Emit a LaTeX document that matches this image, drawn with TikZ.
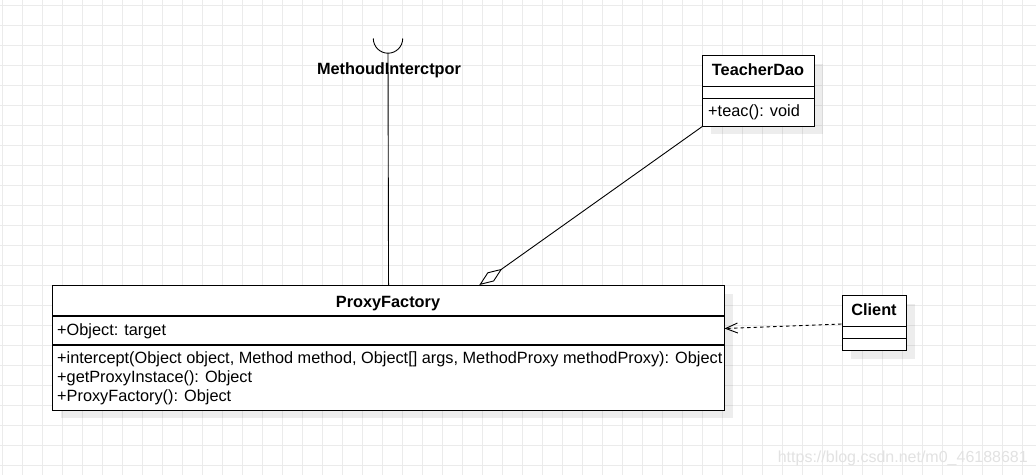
\documentclass[tikz,border=0pt]{standalone}
\usepackage{fontspec}
\setmainfont{Liberation Sans}
\usetikzlibrary{arrows.meta,shadows,calc}
\definecolor{gridc}{HTML}{EBEBEB}
\definecolor{wm}{HTML}{E2E2E2}
\tikzset{
  umlbox/.style={draw=black, line width=1.1pt, fill=white, inner sep=0pt, anchor=north west,
    drop shadow={shadow xshift=8pt, shadow yshift=-8pt, fill=black, opacity=0.07}},
  sepline/.style={draw=black, line width=1.1pt},
  conn/.style={draw=black, line width=0.9pt},
  ttl/.style={font=\fontsize{16.3}{19}\selectfont\bfseries, inner sep=0pt, anchor=base},
  mem/.style={font=\fontsize{16.3}{19}\selectfont, inner sep=0pt, anchor=base west},
}
\begin{document}
\begin{tikzpicture}[x=1pt,y=-1pt]
\useasboundingbox (0,0) rectangle (1036,475);
\fill[white] (0,0) rectangle (1036,475);
% grid
\foreach \gx in {2.67,22.67,...,1036} {\draw[gridc, line width=0.9pt] (\gx,0) -- (\gx,475);}
\foreach \gy in {5,25,...,475} {\draw[gridc, line width=0.9pt] (0,\gy) -- (1036,\gy);}

% ProxyFactory
\node[umlbox, minimum width=672pt, minimum height=124.5pt] (pf) at (52,285) {};
\draw[sepline] (52,316) -- (724,316);
\draw[sepline] (52,345) -- (724,345);
\node[ttl] (pft) at (388,307.7) {ProxyFactory};
\node[mem] (pfa) at (57,335) {+Object: target};
\node[mem] (pfm1) at (57,363.5) {+intercept(Object object, Method method, Object[] args, MethodProxy methodProxy): Object};
\node[mem] (pfm2) at (57,382.5) {+getProxyInstace(): Object};
\node[mem] (pfm3) at (57,401.5) {+ProxyFactory(): Object};

% TeacherDao
\node[umlbox, minimum width=112pt, minimum height=70.5pt] (td) at (702,55) {};
\draw[sepline] (702,86.7) -- (814,86.7);
\draw[sepline] (702,98.3) -- (814,98.3);
\node[ttl] (tdt) at (758,75.7) {TeacherDao};
\node[mem] (tdm) at (708,116.7) {+teac(): void};

% Client
\node[umlbox, minimum width=64pt, minimum height=55pt] (cl) at (842,295) {};
\draw[sepline] (842,326.7) -- (906,326.7);
\draw[sepline] (842,338.3) -- (906,338.3);
\node[ttl] (clt) at (874,315.7) {Client};

% dependency Client -> ProxyFactory
\coordinate (clw) at (841.5,324);
\coordinate (pfe) at (724.5,328.5);
\draw[conn, dash pattern=on 3.5pt off 3pt, -{Straight Barb[length=12pt,width=10pt]}] (clw) -- (pfe);

% aggregation TeacherDao -> ProxyFactory
\coordinate (tdsw) at (703,126);
\coordinate (pfagg) at (479.3,285);
\draw[conn, -{Diamond[open, length=28pt, width=11pt, line width=0.9pt]}] (tdsw) -- (pfagg);

% required interface (socket)
\coordinate (sockl) at (373.3,38.5);
\coordinate (sockb) at (388,53.2);
\draw[conn] (sockl) arc[start angle=180, end angle=0, radius=14.7];
\draw[conn] (sockb) -- (pf.north);
\node[ttl] (mi) at (389,74) {MethoudInterctpor};

% watermark
\node[font=\fontsize{16}{19}\selectfont, text=wm, inner sep=0pt, anchor=base east] (wmk) at (1028,462) {https://blog.csdn.net/m0\_46188681};
\end{tikzpicture}
\end{document}
